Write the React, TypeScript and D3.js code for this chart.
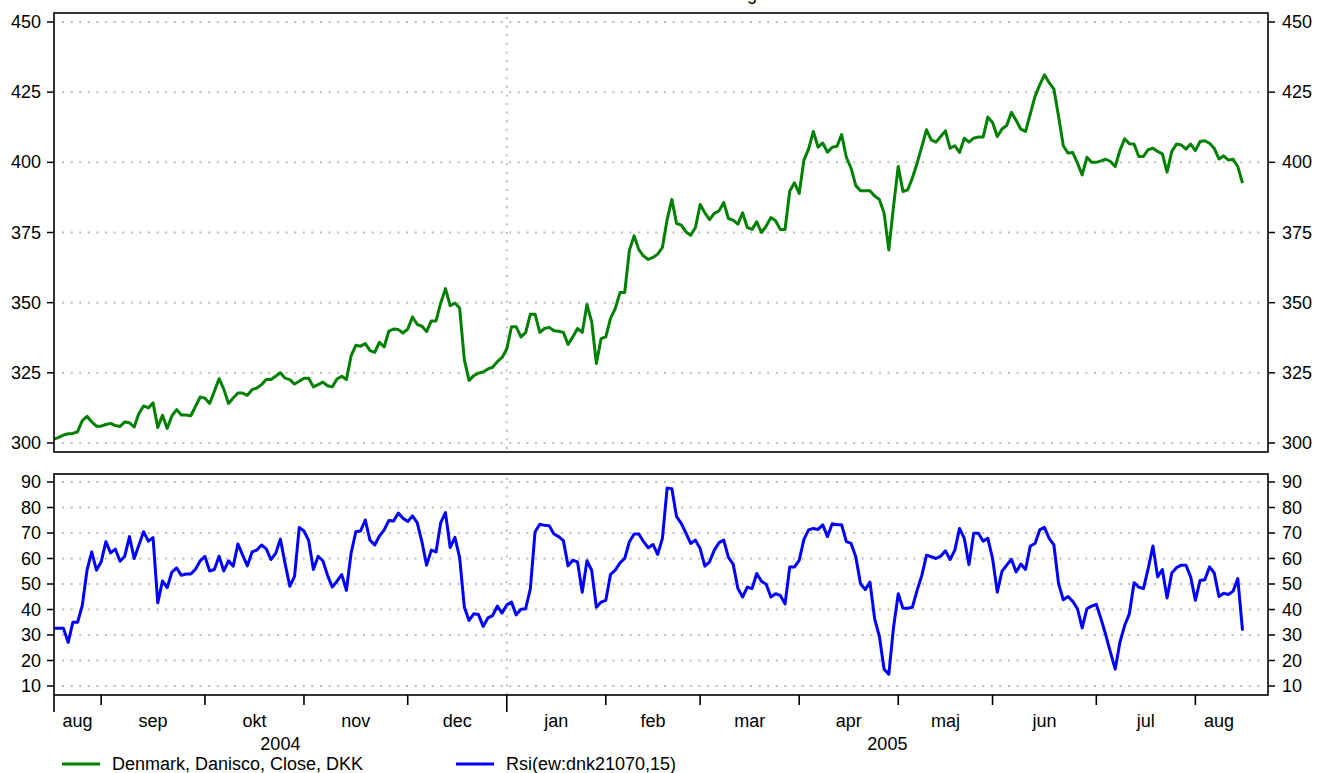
import React from "react";
import * as d3 from "d3";

// daily close, Aug 2004 - Aug 2005 (trading days)
const closePrices = [
  301.4, 302, 302.8, 303.3, 303.4, 304, 308, 309.5, 307.5, 306,
  306, 306.6, 307, 306.2, 305.9, 307.5, 307.2, 305.7, 310.5, 313.2,
  312.5, 314.3, 305.5, 309.9, 305.2, 309.7, 311.9, 310, 310, 309.7,
  313, 316.4, 316, 314.1, 318.4, 322.9, 319.2, 314.1, 316, 317.8,
  317.8, 317, 319, 319.6, 320.8, 322.6, 322.6, 323.8, 325, 323.1,
  322.6, 321, 322, 323.1, 323.1, 320, 320.8, 321.7, 320.4, 320,
  322.8, 323.8, 322.6, 331.1, 334.8, 334.5, 335.4, 332.9, 332.3, 335.9,
  334.2, 339.9, 340.6, 340.4, 339.2, 340.6, 344.9, 342.3, 341.6, 339.7,
  343.5, 343.5, 349.9, 355, 348.9, 349.9, 348.1, 329.7, 322.3, 324,
  324.9, 325.3, 326.4, 327, 329, 330.5, 333.5, 341.4, 341.4, 337.8,
  339.3, 345.9, 345.9, 339.4, 340.8, 341.2, 340, 339.8, 339.4, 335.1,
  337.8, 340.8, 339.4, 349.3, 343.2, 328.3, 337.2, 337.8, 344.4, 347.9,
  353.6, 353.6, 368.7, 373.8, 368.9, 366.6, 365.4, 366.1, 367.3, 369.7,
  379.6, 386.8, 378.2, 377.6, 375.2, 374, 376.8, 385, 382, 379.6,
  381.8, 382.7, 385.7, 380, 379.4, 378, 382, 376.8, 376.1, 378.8,
  375, 377.3, 380.3, 379.2, 376.1, 376.1, 389.8, 392.7, 388.9, 400.8,
  404.8, 411, 405.4, 406.9, 403.6, 405.4, 405.7, 409.9, 401.8, 397.9,
  391.7, 389.9, 389.9, 389.9, 388, 386.8, 381.9, 368.8, 384.3, 398.5,
  389.6, 390.2, 394.4, 399.7, 405.6, 411.6, 408, 407.2, 409.2, 411.2,
  405, 405.9, 403.5, 408.6, 407.2, 408.6, 409, 409, 416.1, 414.2,
  409.2, 411.9, 413.1, 417.8, 414.9, 411.8, 411, 417.3, 423.5, 427.6,
  431.2, 428.4, 426.1, 416.3, 405.9, 403.3, 403.5, 399.7, 395.5, 401.8,
  400, 400, 400.5, 401.1, 400.3, 398.5, 404.2, 408.4, 406.6, 406.5,
  402.1, 402.1, 404.5, 405, 403.9, 403, 396.5, 403.9, 406.5, 406.2,
  404.7, 406.5, 404.2, 407.4, 407.7, 406.8, 405, 401.2, 402.3, 400.8,
  401.1, 398.5, 392.6,
];

// Rsi(ew:dnk21070,15)
const rsiValues = [
  32.6, 32.6, 32.6, 27.1, 35, 35, 41.6, 55.4, 62.6, 55.4,
  58.7, 66.6, 62.2, 63.7, 58.9, 60.9, 68.6, 60, 65.3, 70.5,
  66.8, 68.2, 42.6, 51.2, 48.6, 54.7, 56.3, 53.4, 53.9, 53.9,
  55.8, 59.1, 60.8, 55.1, 55.7, 60.9, 55.1, 59.1, 57, 65.7,
  61.3, 57.1, 62.6, 63.3, 65.3, 63.8, 59.6, 62, 67.6, 58,
  49.1, 53, 72.2, 70.8, 67, 55.7, 60.9, 59.1, 53.4, 48.8,
  51.1, 53.7, 47.5, 62.2, 70.5, 70.8, 75.1, 67.2, 65.3, 68.8,
  71.2, 74.9, 74.7, 77.8, 75.8, 74.5, 76.7, 74.1, 66.6, 57.4,
  63.3, 62.6, 74.1, 78, 64.3, 68.3, 60.4, 40.9, 35.7, 38.3,
  38, 33.4, 36.7, 37.6, 41.3, 38.6, 41.8, 42.9, 37.9, 40.1,
  40.3, 48.2, 70.5, 73.4, 73, 72.8, 69.6, 68.6, 67, 57.1,
  59.3, 58.7, 46.8, 59.1, 55.4, 40.9, 42.9, 43.6, 53.8, 55.4,
  58.3, 60, 66.6, 69.6, 69.6, 66.6, 64.2, 65.5, 61.6, 67.9,
  87.6, 87.4, 76.4, 73.8, 69.9, 65.9, 67.2, 63.9, 57, 58.7,
  63.3, 66.2, 67.2, 60.4, 57.8, 48.2, 44.9, 48.8, 48.2, 54.1,
  51.1, 49.9, 44.9, 46.2, 45.5, 42.2, 56.7, 56.7, 59.3, 67.5,
  71.2, 71.8, 71.4, 73.2, 68.6, 73.6, 73.2, 73.2, 66.6, 65.9,
  60.7, 50.1, 47.8, 50.8, 36.3, 29.5, 16.6, 14.6, 33, 46.2,
  40.5, 40.5, 40.9, 47.5, 53.4, 61.3, 60.7, 60, 60.9, 63,
  59.6, 63.3, 71.8, 67.9, 57.6, 69.9, 69.9, 66.8, 67.9, 60,
  46.8, 55, 57.4, 59.7, 54.7, 57.8, 55.7, 64.9, 65.9, 71.2,
  72.2, 67.9, 65.3, 50.1, 43.8, 45.1, 43.2, 40.3, 32.8, 40.3,
  41.3, 42, 36.3, 30, 23.2, 16.6, 27.1, 33.7, 38.3, 50.5,
  48.8, 48.2, 56.1, 64.9, 52.8, 55.7, 44.5, 54.3, 56.4, 57.4,
  57.4, 52.8, 43.6, 51.4, 51.7, 56.7, 54.3, 45.1, 46.4, 45.9,
  47.2, 52.1, 31.7,
];

const monthLabels = ["aug", "sep", "okt", "nov", "dec", "jan", "feb", "mar", "apr", "maj", "jun", "jul", "aug"];
// trading-day index where each month starts (sep 2004 .. aug 2005)
const monthStarts = [10, 32, 53, 75, 96, 117, 137, 158, 179, 199, 221, 242];
const yearLabels = ["2004", "2005"];
const yearStart = 96;
const priceTicks = [300, 325, 350, 375, 400, 425, 450];
const rsiTicks = [10, 20, 30, 40, 50, 60, 70, 80, 90];
const legendItems = [
  { label: "Denmark, Danisco, Close, DKK", color: "#008000" },
  { label: "Rsi(ew:dnk21070,15)", color: "#0000ff" },
];

const W = 1321;
const H = 773;
const left = 54;
const right = 1268;
const top1 = 13;
const bot1 = 452;
const top2 = 474;
const bot2 = 695;
const font = "'Liberation Sans', Arial, sans-serif";
const fs = 18;

export default function App() {
  const lastIdx = closePrices.length - 1;
  const x = d3.scaleLinear().domain([0, 257.4]).range([left, right]);
  const yP = d3.scaleLinear().domain([300, 450]).range([443, 22]);
  const yR = d3.scaleLinear().domain([10, 90]).range([686, 482]);

  const priceLine = d3
    .line<number>()
    .x((_, i) => x(i))
    .y((d) => yP(d));
  const rsiLine = d3
    .line<number>()
    .x((_, i) => x(i))
    .y((d) => yR(d));

  const grid = { stroke: "#bdbdbd", strokeWidth: 2, strokeDasharray: "2 6.6" };

  const bounds = [0, ...monthStarts, lastIdx];

  return (
    <svg
      width={W}
      height={H}
      style={{ position: "absolute", left: 0, top: 0, background: "#fff" }}
      fontFamily={font}
      fontSize={fs}
    >
      <rect width={W} height={H} fill="#fff" />
      {/* title sits above the visible area, only its descender shows */}
      <text x={752} y={0} textAnchor="middle">g</text>

      {/* price panel grid */}
      {priceTicks.map((t) => (
        <line key={"pg" + t} x1={left + 8} x2={right - 4} y1={yP(t)} y2={yP(t)} {...grid} />
      ))}
      <line x1={x(yearStart)} x2={x(yearStart)} y1={top1 + 4} y2={bot1} {...grid} />

      {/* rsi panel grid */}
      {rsiTicks.map((t) => (
        <line key={"rg" + t} x1={left + 8} x2={right - 4} y1={yR(t)} y2={yR(t)} {...grid} />
      ))}
      <line x1={x(yearStart)} x2={x(yearStart)} y1={top2 + 4} y2={bot2} {...grid} />

      <path d={priceLine(closePrices) || ""} fill="none" stroke="#008000" strokeWidth={3} strokeLinejoin="round" />
      <path d={rsiLine(rsiValues) || ""} fill="none" stroke="#0000ff" strokeWidth={3} strokeLinejoin="round" />

      {/* frames */}
      <rect x={left} y={top1} width={right - left} height={bot1 - top1} fill="none" stroke="#000" strokeWidth={1.6} />
      <rect x={left} y={top2} width={right - left} height={bot2 - top2} fill="none" stroke="#000" strokeWidth={1.6} />

      {/* y axes */}
      {priceTicks.map((t) => (
        <g key={"pt" + t}>
          <line x1={left - 7} x2={left} y1={yP(t)} y2={yP(t)} stroke="#000" strokeWidth={1.5} />
          <line x1={right} x2={right + 7} y1={yP(t)} y2={yP(t)} stroke="#000" strokeWidth={1.5} />
          <text x={left - 13} y={yP(t) + 6} textAnchor="end">{t}</text>
          <text x={right + 14} y={yP(t) + 6}>{t}</text>
        </g>
      ))}
      {rsiTicks.map((t) => (
        <g key={"rt" + t}>
          <line x1={left - 7} x2={left} y1={yR(t)} y2={yR(t)} stroke="#000" strokeWidth={1.5} />
          <line x1={right} x2={right + 7} y1={yR(t)} y2={yR(t)} stroke="#000" strokeWidth={1.5} />
          <text x={left - 13} y={yR(t) + 6} textAnchor="end">{t}</text>
          <text x={right + 14} y={yR(t) + 6}>{t}</text>
        </g>
      ))}

      {/* x axis */}
      <line x1={left} x2={left} y1={bot2} y2={bot2 + 17} stroke="#000" strokeWidth={1.6} />
      {monthStarts.map((m) => (
        <line
          key={"mt" + m}
          x1={x(m)}
          x2={x(m)}
          y1={bot2}
          y2={m === yearStart ? bot2 + 17 : bot2 + 10}
          stroke="#000"
          strokeWidth={1.6}
        />
      ))}
      {monthLabels.map((lab, i) => (
        <text key={"ml" + i} x={(x(bounds[i]) + x(bounds[i + 1])) / 2} y={727} textAnchor="middle">
          {lab}
        </text>
      ))}
      <text x={(x(0) + x(yearStart)) / 2} y={750} textAnchor="middle">{yearLabels[0]}</text>
      <text x={(x(yearStart) + right) / 2} y={750} textAnchor="middle">{yearLabels[1]}</text>

      {/* legend */}
      {legendItems.map((it, i) => (
        <g key={it.label} transform={`translate(${62 + i * 394},0)`}>
          <line x1={0} x2={38} y1={764} y2={764} stroke={it.color} strokeWidth={3} />
          <text x={50} y={770}>{it.label}</text>
        </g>
      ))}
    </svg>
  );
}
